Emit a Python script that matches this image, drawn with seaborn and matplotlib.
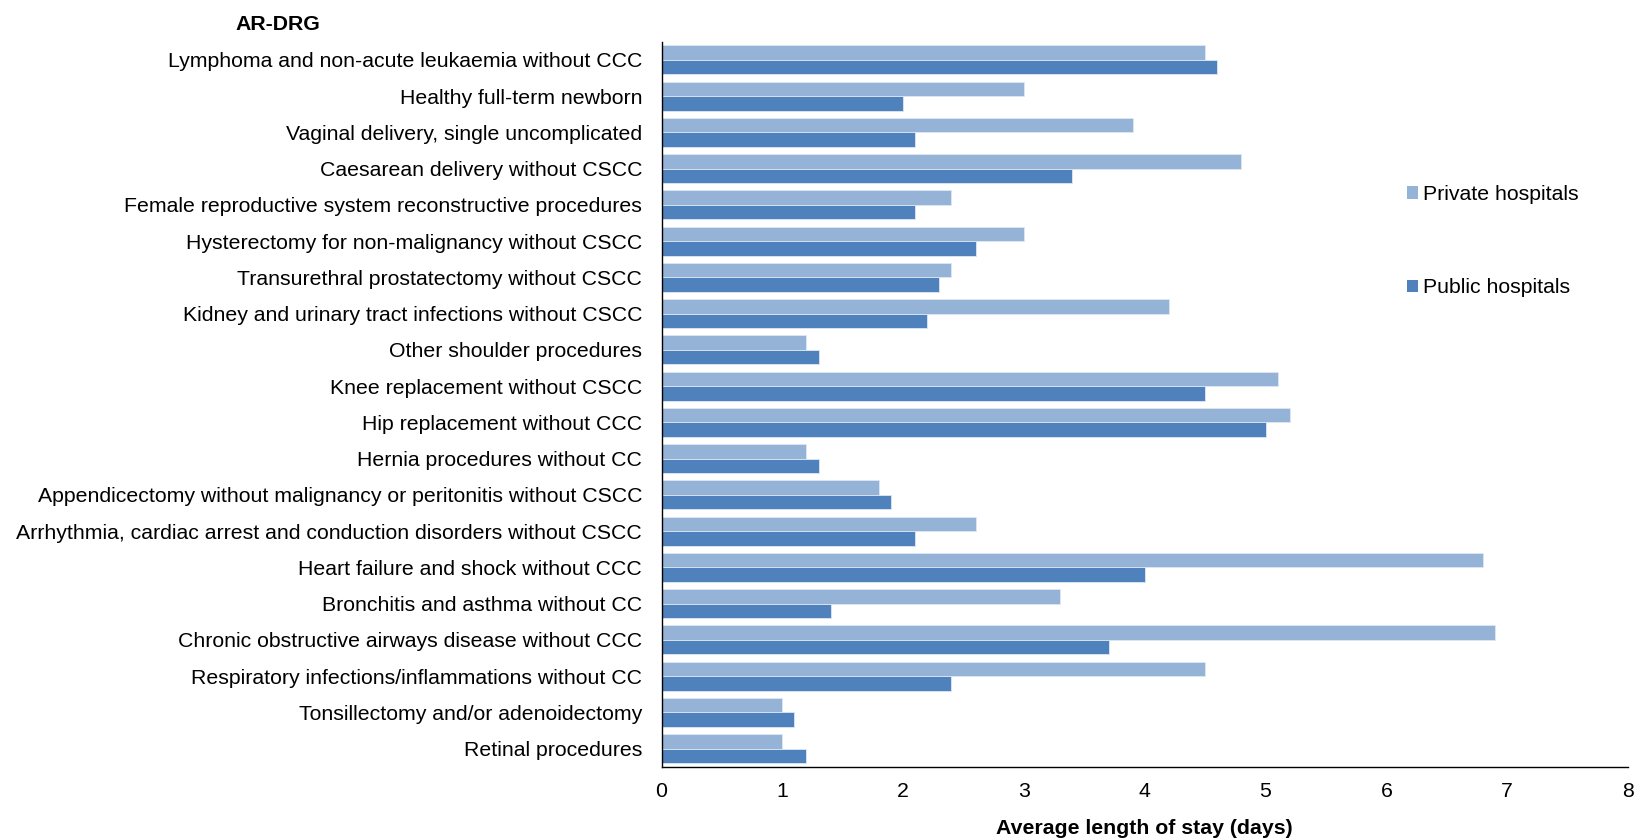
import matplotlib
matplotlib.use("Agg")
import matplotlib.pyplot as plt
from matplotlib.patches import Patch
import seaborn as sns
import pandas as pd

# AR-DRG categories (top to bottom)
categories = [
    "Lymphoma and non-acute leukaemia without CCC",
    "Healthy full-term newborn",
    "Vaginal delivery, single uncomplicated",
    "Caesarean delivery without CSCC",
    "Female reproductive system reconstructive procedures",
    "Hysterectomy for non-malignancy without CSCC",
    "Transurethral prostatectomy without CSCC",
    "Kidney and urinary tract infections without CSCC",
    "Other shoulder procedures",
    "Knee replacement without CSCC",
    "Hip replacement without CCC",
    "Hernia procedures without CC",
    "Appendicectomy without malignancy or peritonitis without CSCC",
    "Arrhythmia, cardiac arrest and conduction disorders without CSCC",
    "Heart failure and shock without CCC",
    "Bronchitis and asthma without CC",
    "Chronic obstructive airways disease without CCC",
    "Respiratory infections/inflammations without CC",
    "Tonsillectomy and/or adenoidectomy",
    "Retinal procedures",
]

# Average length of stay (days)
private_alos = [4.5, 3.0, 3.9, 4.8, 2.4, 3.0, 2.4, 4.2, 1.2, 5.1,
                5.2, 1.2, 1.8, 2.6, 6.8, 3.3, 6.9, 4.5, 1.0, 1.0]
public_alos = [4.6, 2.0, 2.1, 3.4, 2.1, 2.6, 2.3, 2.2, 1.3, 4.5,
               5.0, 1.3, 1.9, 2.1, 4.0, 1.4, 3.7, 2.4, 1.1, 1.2]

series = ["Private hospitals", "Public hospitals"]
colors = ["#95B3D7", "#4F81BD"]
x_ticks = [0, 1, 2, 3, 4, 5, 6, 7, 8]

df = pd.DataFrame({
    "drg": categories * 2,
    "sector": [series[0]] * len(categories) + [series[1]] * len(categories),
    "alos": private_alos + public_alos,
})

sns.set_theme(style="white")
plt.rcParams["font.family"] = ["Liberation Sans", "DejaVu Sans"]
plt.rcParams["text.color"] = "black"

fs = 15.3
fig = plt.figure(figsize=(16.37, 8.38), dpi=100)
ax = fig.add_axes([661.5 / 1637, 1 - 766.7 / 838,
                   (1628 - 661.5) / 1637, (766.7 - 41.7) / 838])

sns.barplot(data=df, y="drg", x="alos", hue="sector", order=categories,
            hue_order=series, palette=colors, saturation=1, orient="h",
            width=0.8, edgecolor="#dfe8f3", linewidth=0.6, legend=False,
            ax=ax)

ax.set_xlim(0, 8)
ax.set_ylim(len(categories) - 0.5, -0.5)
ax.set_xticks(x_ticks)
ax.set_xticklabels([str(t) for t in x_ticks])
ax.tick_params(axis="both", length=0, labelsize=fs, colors="black")
ax.tick_params(axis="y", pad=14)
ax.tick_params(axis="x", pad=11)
ax.set_ylabel("")
ax.set_xlabel("Average length of stay (days)", fontsize=fs,
              fontweight="bold", color="black")
ax.xaxis.set_label_coords(0.5, -0.072)

for side in ["top", "right"]:
    ax.spines[side].set_visible(False)
for side in ["left", "bottom"]:
    ax.spines[side].set_color("black")
    ax.spines[side].set_linewidth(1.0)

fig.text(278 / 1637, 1 - 24 / 838, "AR-DRG", ha="center", va="center",
         fontsize=fs, fontweight="bold", color="black")

handles = [Patch(facecolor=c, edgecolor="none", label=s)
           for c, s in zip(colors, series)]
fig.legend(handles=handles, loc="upper left",
           bbox_to_anchor=(1407 / 1637, 1 - 185 / 838),
           frameon=False, fontsize=fs, handlelength=0.5, handleheight=0.5,
           handletextpad=0.25, labelspacing=3.5, borderpad=0,
           borderaxespad=0)

fig.savefig("out.png", dpi=100, facecolor="white")
